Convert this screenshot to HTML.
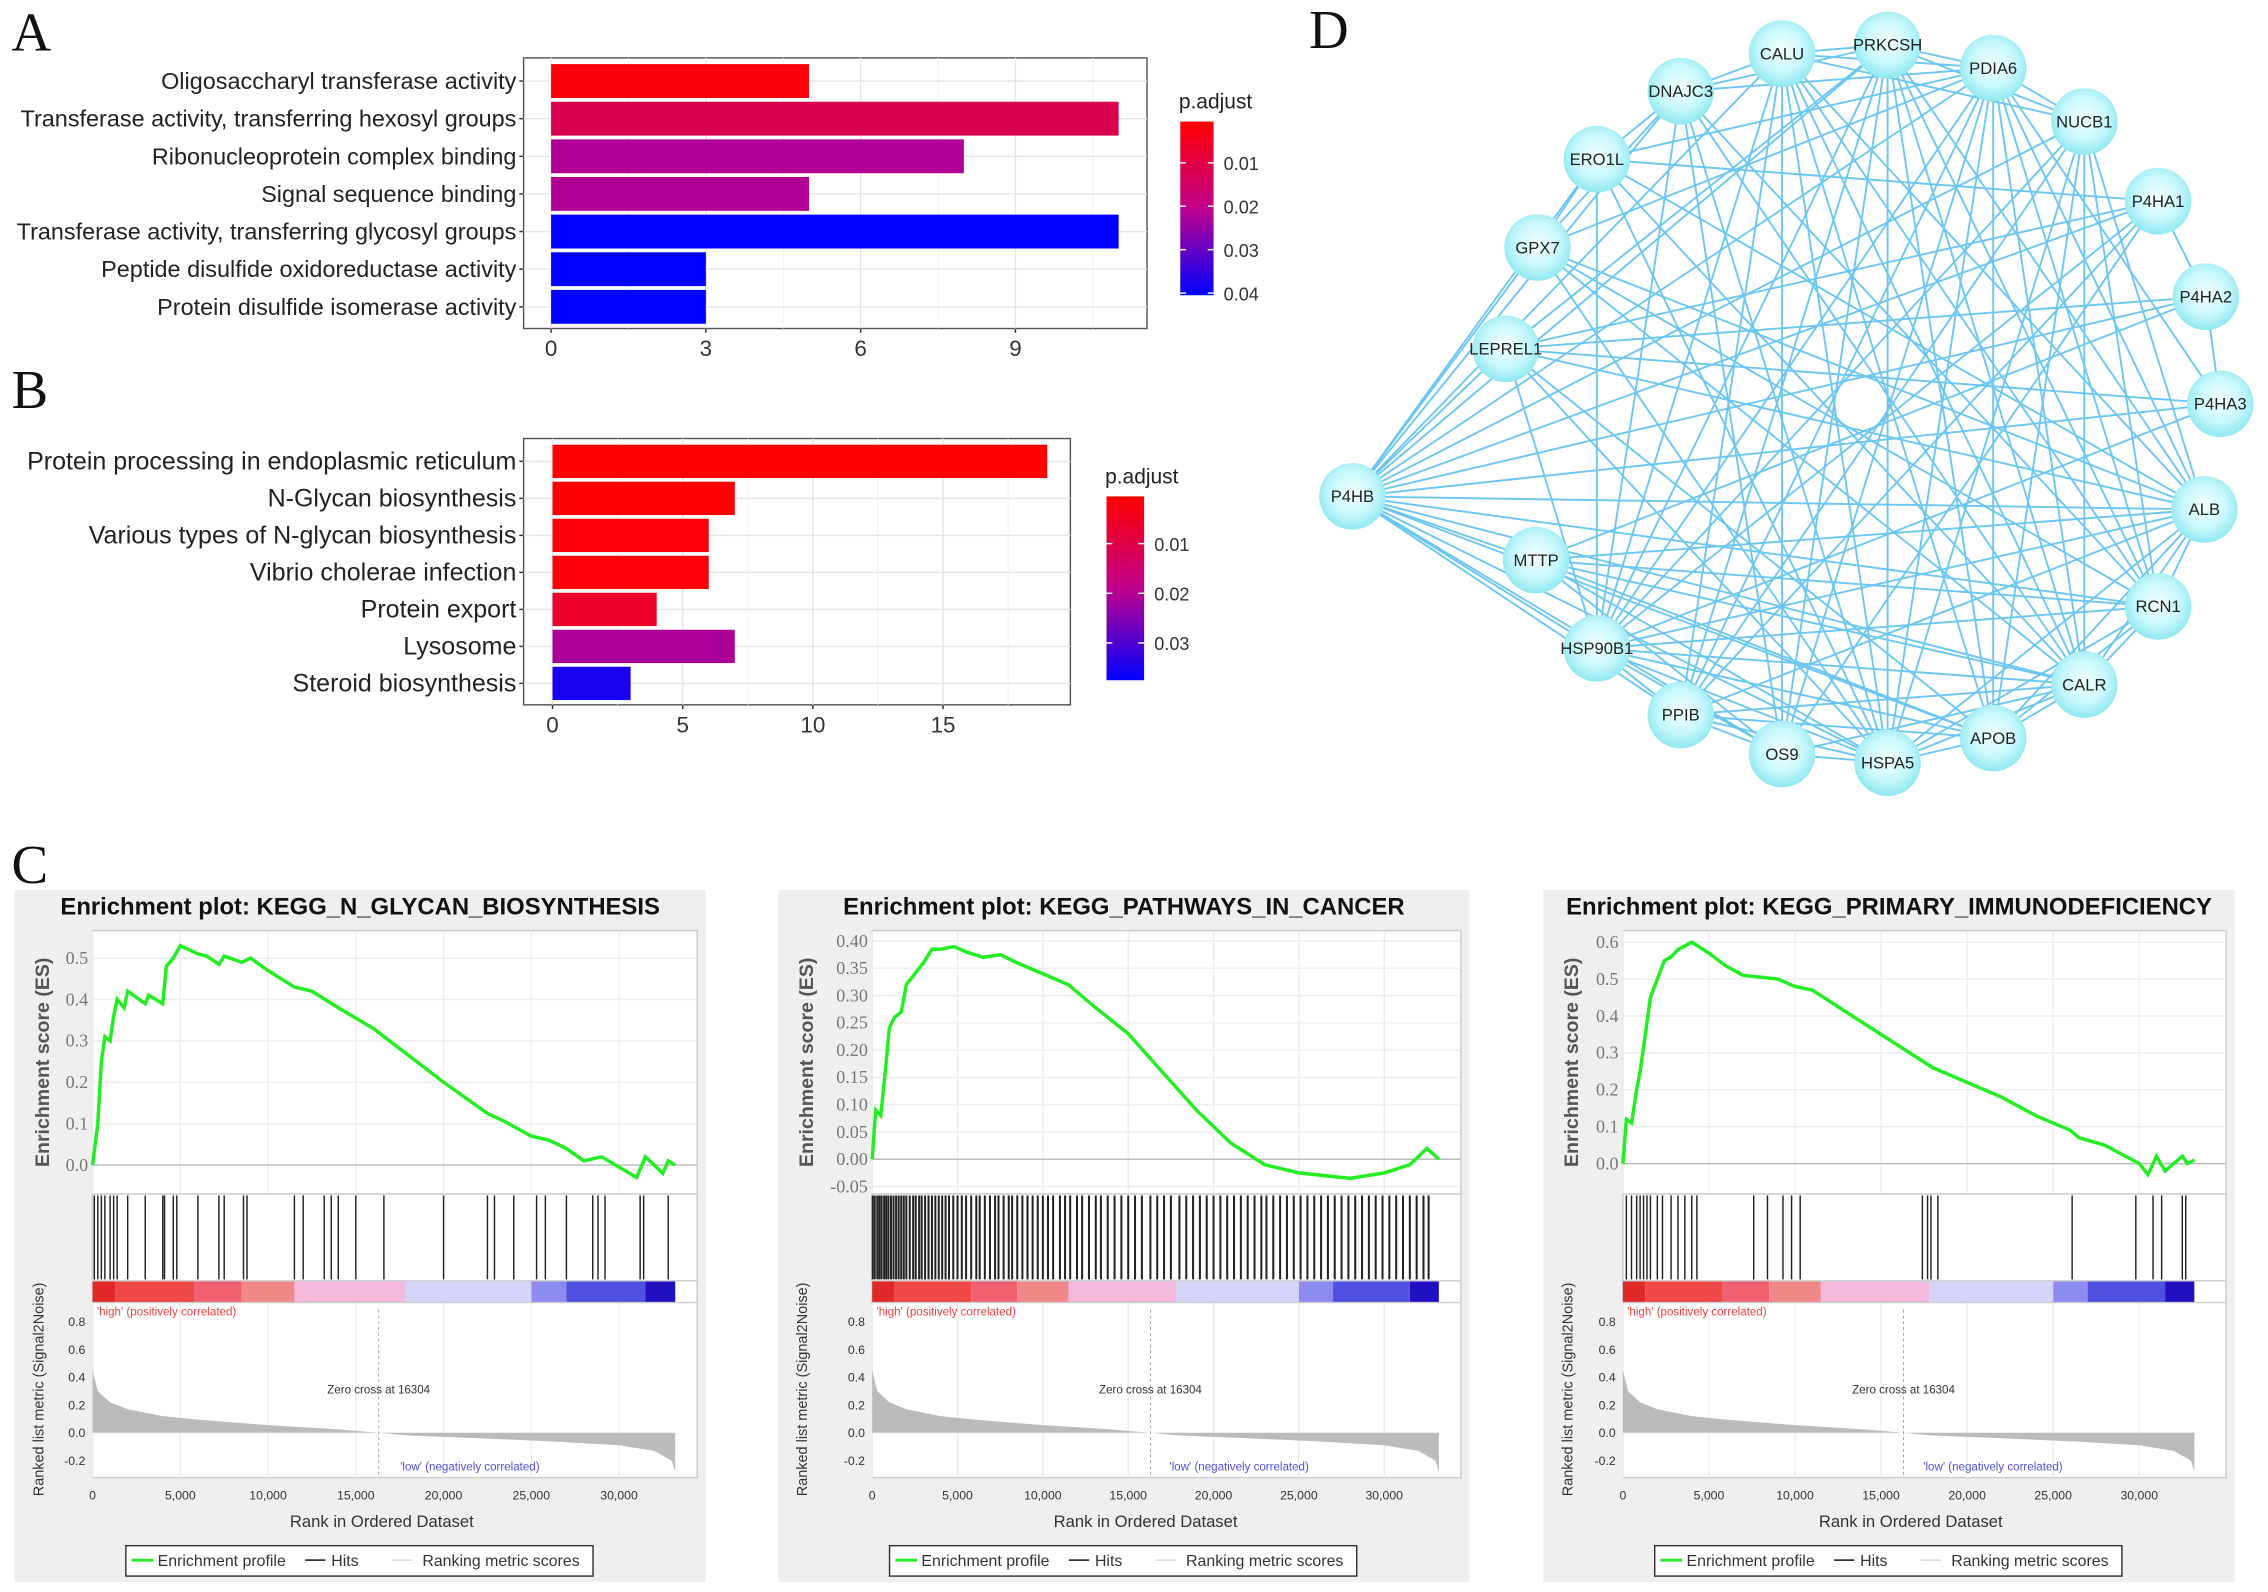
<!DOCTYPE html>
<html><head><meta charset="utf-8">
<style>
html,body{margin:0;padding:0;background:#fff;}
svg{display:block;font-family:"Liberation Sans",Arial,sans-serif;}
</style></head>
<body>
<svg id="fig" width="2268" height="1592" viewBox="0 0 1568 1100" preserveAspectRatio="none" xmlns="http://www.w3.org/2000/svg">
<defs>
<linearGradient id="cbA" x1="0" y1="0" x2="0" y2="1"><stop offset="0" stop-color="#ff0000"/><stop offset="0.5" stop-color="#c0008c"/><stop offset="1" stop-color="#0000ff"/></linearGradient>
<linearGradient id="cbB" x1="0" y1="0" x2="0" y2="1"><stop offset="0" stop-color="#ff0000"/><stop offset="0.5" stop-color="#c0008c"/><stop offset="1" stop-color="#0000ff"/></linearGradient>
<radialGradient id="nodeG" cx="0.5" cy="0.45" r="0.55"><stop offset="0" stop-color="#f4ffff"/><stop offset="0.6" stop-color="#c8f8fc"/><stop offset="1" stop-color="#8ee8f0"/></radialGradient>
</defs>
<g id="root"></g>
</svg>
<script>
const NS="http://www.w3.org/2000/svg";
const root=document.getElementById('root');
function mk(tag,attrs,parent,txt){const e=document.createElementNS(NS,tag);for(const k in attrs)e.setAttribute(k,attrs[k]);if(txt!==undefined)e.textContent=txt;(parent||root).appendChild(e);return e;}

// ---------- Panel A data ----------
const aCategories=["Oligosaccharyl transferase activity","Transferase activity, transferring hexosyl groups","Ribonucleoprotein complex binding","Signal sequence binding","Transferase activity, transferring glycosyl groups","Peptide disulfide oxidoreductase activity","Protein disulfide isomerase activity"];
const aCounts=[5,11,8,5,11,3,3];
const aPadj=[0.002,0.012,0.022,0.022,0.041,0.041,0.041];
const aTicks=[0,3,6,9];
const aLegendTicks=[0.01,0.02,0.03,0.04];
// ---------- Panel B data ----------
const bCategories=["Protein processing in endoplasmic reticulum","N-Glycan biosynthesis","Various types of N-glycan biosynthesis","Vibrio cholerae infection","Protein export","Lysosome","Steroid biosynthesis"];
const bCounts=[19,7,6,6,4,7,3];
const bPadj=[0.0002,0.001,0.0015,0.0015,0.006,0.021,0.035];
const bTicks=[0,5,10,15];
const bLegendTicks=[0.01,0.02,0.03];

function padjColor(p,lo,hi){let t=(p-lo)/(hi-lo);t=Math.max(0,Math.min(1,t));
  let r,g,b; if(t<0.5){const u=t/0.5;r=255+(192-255)*u;g=0;b=0+140*u;}else{const u=(t-0.5)/0.5;r=192-192*u;g=0;b=140+115*u;}
  return `rgb(${r|0},${g|0},${b|0})`;}

function barPanel(o){
  const g=mk('g',{});
  const xs=v=>o.x0+v*o.ppu;
  const rowH=(o.by-o.ty)/o.cats.length;
  const bg=mk('rect',{x:o.bx,y:o.ty-o.padT,width:o.rx-o.bx,height:o.by-o.ty+o.padT+o.padB,fill:'#fff',stroke:'#555','stroke-width':1},g);
  
  o.ticks.forEach((t,i)=>{mk('line',{x1:xs(t),x2:xs(t),y1:o.ty-o.padT,y2:o.by+o.padB,stroke:'#e6e6e6','stroke-width':1},g);
    const m=t+(o.ticks[1]-o.ticks[0])/2;if(xs(m)<o.rx)mk('line',{x1:xs(m),x2:xs(m),y1:o.ty-o.padT,y2:o.by+o.padB,stroke:'#f2f2f2','stroke-width':0.7},g);});
  o.cats.forEach((c,i)=>{const cy=o.ty+rowH*(i+0.5);
    mk('line',{x1:o.bx,x2:o.rx,y1:cy,y2:cy,stroke:'#e6e6e6','stroke-width':1},g);
    const r=mk('rect',{x:xs(0),y:cy-rowH*0.45,width:xs(o.vals[i])-xs(0),height:rowH*0.9,fill:padjColor(o.padj[i],o.plo,o.phi)},g);
    
    const l=mk('text',{x:o.bx-5,y:cy+5.5,'text-anchor':'end','font-size':o.fs,fill:'#222'},g,c);
    
    mk('line',{x1:o.bx-3,x2:o.bx,y1:cy,y2:cy,stroke:'#333'},g);});
  o.ticks.forEach(t=>{mk('line',{x1:xs(t),x2:xs(t),y1:o.by+o.padB,y2:o.by+o.padB+3,stroke:'#333'},g);
    const tl=mk('text',{x:xs(t),y:o.by+o.padB+19,'text-anchor':'middle','font-size':15.5,fill:'#333'},g,String(t));
    });
  const lg=mk('g',{},g);
  mk('text',{x:o.cbx,y:o.cby-9,'font-size':14.5,fill:'#222'},lg,'p.adjust');
  mk('rect',{x:o.cbx+1,y:o.cby,width:o.cbw,height:o.cbh,fill:'url(#'+o.grad+')'},lg);
  o.lticks.forEach(t=>{const yy=o.cby+(t-o.plo)/(o.phi-o.plo)*o.cbh;
    mk('line',{x1:o.cbx+1,x2:o.cbx+5,y1:yy,y2:yy,stroke:'#fff'},lg);mk('line',{x1:o.cbx+o.cbw-3,x2:o.cbx+o.cbw+1,y1:yy,y2:yy,stroke:'#fff'},lg);
    mk('text',{x:o.cbx+o.cbw+8,y:yy+5,'font-size':12.5,fill:'#333'},lg,t.toFixed(2));});
}
barPanel({name:'panel-a-go-barplot',cats:aCategories,vals:aCounts,padj:aPadj,ticks:aTicks,lticks:aLegendTicks,fs:16.2,
  bx:362,rx:793,ty:43,by:225,padT:3,padB:2,x0:381,ppu:35.67,plo:0.0005,phi:0.0405,cbx:815,cby:84,cbw:23,cbh:120,grad:'cbA'});
barPanel({name:'panel-b-kegg-barplot',cats:bCategories,vals:bCounts,padj:bPadj,ticks:bTicks,lticks:bLegendTicks,fs:17.3,
  bx:362,rx:740,ty:306,by:485,padT:3,padB:2,x0:382,ppu:18,plo:0.0005,phi:0.0375,cbx:764,cby:343,cbw:26,cbh:127,grad:'cbB'});

[['A',8,35],['B',8,282],['C',8,610],['D',905,33]].forEach(([t,x,y])=>{const e=mk('text',{x:x,y:y,'font-size':38,'font-family':'"Liberation Serif",serif',fill:'#111'},root,t);
  });

// ---------- Panel C GSEA data ----------
const es1Ranks=[0,300,500,700,1000,1200,1400,1800,2000,3000,3200,4000,4200,4600,5000,6000,6500,7200,7500,8500,9000,10000,11500,12500,14000,16000,20000,22500,23500,25000,26000,27000,28000,29000,31000,31500,32500,32800,33200];
const es1Vals=[0,0.1,0.25,0.31,0.3,0.36,0.4,0.38,0.42,0.39,0.41,0.39,0.48,0.5,0.53,0.51,0.505,0.485,0.505,0.49,0.5,0.47,0.43,0.42,0.38,0.33,0.2,0.125,0.105,0.07,0.06,0.04,0.01,0.02,-0.03,0.02,-0.02,0.01,0];
const hits1=[100,300,500,700,1000,1200,1400,2000,3000,4000,4100,4600,4800,6000,7200,7500,8600,8800,11500,12000,13200,13600,14000,15000,16600,20000,22500,22900,24000,25300,25800,27000,28500,28800,29200,31200,31400,32800];
const es2Ranks=[0,200,500,800,1000,1300,1700,2000,2500,3000,3500,4000,4800,5500,6500,7500,8500,10000,11500,13000,15000,17000,19000,21000,23000,25000,26500,28000,30000,31500,32500,33200];
const es2Vals=[0,0.09,0.08,0.17,0.24,0.26,0.27,0.32,0.34,0.36,0.385,0.385,0.39,0.38,0.37,0.375,0.36,0.34,0.32,0.28,0.23,0.16,0.09,0.03,-0.01,-0.025,-0.03,-0.035,-0.025,-0.01,0.02,0];
const hits2=[30,150,300,420,550,700,820,950,1100,1250,1400,1550,1700,1850,2000,2200,2400,2550,2750,2900,3100,3300,3500,3700,3900,4100,4300,4500,4750,5000,5250,5500,5800,6100,6300,6600,6900,7200,7400,7700,8000,8200,8500,8800,9100,9400,9700,10000,10300,10600,11000,11300,11600,12000,12300,12700,13100,13400,13800,14200,14600,15000,15400,15800,16300,16700,17100,17500,18000,18400,18800,19200,19600,20000,20400,20800,21200,21600,22000,22400,22800,23100,23500,23900,24300,24700,25100,25500,25900,26300,26700,27100,27500,27900,28300,28700,29100,29500,29900,30300,30700,31100,31500,31900,32300,32600];
const es3Ranks=[0,200,500,800,1000,1300,1600,2000,2400,2800,3200,4000,5000,6000,7000,8000,9000,10000,11000,12000,14000,16000,18000,20000,22000,24000,26000,26500,28000,30000,30500,31000,31500,32500,32800,33200];
const es3Vals=[0,0.12,0.11,0.2,0.25,0.35,0.45,0.5,0.55,0.56,0.58,0.6,0.57,0.535,0.51,0.505,0.5,0.48,0.47,0.44,0.38,0.32,0.26,0.22,0.18,0.13,0.09,0.07,0.05,0,-0.03,0.02,-0.02,0.02,0,0.01];
const hits3=[200,500,800,1000,1200,1400,1600,2000,2300,2800,3200,3600,4000,4300,7600,8400,9300,9800,10300,17400,17700,17900,18300,26100,29800,30800,31300,32500,32700];
const metricRanks=[0,300,1000,2000,4000,6000,8000,10000,12000,14000,16300,18000,22000,26000,30000,32000,33000,33200];
const metricVals=[0.45,0.3,0.22,0.17,0.12,0.095,0.075,0.055,0.04,0.025,0,-0.02,-0.04,-0.06,-0.09,-0.13,-0.2,-0.28];
const xTicks=[0,5000,10000,15000,20000,25000,30000];
const metricTicks=[0.8,0.6,0.4,0.2,0.0,-0.2];
const bandEdges=[0,1300,5800,8500,11500,17800,25000,27000,31500,33200];
const bandColors=['#e02828','#f04848','#f06070','#f08888','#f4b8dc','#d4d4f8','#8c8cf0','#5050e0','#2010c0'];

function gsea(o){
  const g=mk('g',{});
  mk('rect',{x:o.px,y:615,width:478,height:478,fill:'#efefef'},g);
  const t=mk('text',{x:o.px+239,y:632,'text-anchor':'middle','font-size':16.5,'font-weight':'bold',fill:'#111'},g,o.title);
  
  const X=r=>o.x0+r*(o.x30-o.x0)/30000;
  const right=o.px+472, left=o.x0;
  mk('rect',{x:left,y:643,width:right-left,height:378,fill:'#fff',stroke:'#ccc'},g);
  const Y=v=>o.y0-v*o.ppu;
  xTicks.forEach(tk=>{mk('line',{x1:X(tk),x2:X(tk),y1:643,y2:825,stroke:'#eee'},g);mk('line',{x1:X(tk),x2:X(tk),y1:900,y2:1021,stroke:'#eee'},g);});
  o.esTicks.forEach(v=>{mk('line',{x1:left,x2:right,y1:Y(v),y2:Y(v),stroke:'#eee'},g);
    mk('text',{x:left-3,y:Y(v)+4,'text-anchor':'end','font-size':12.5,fill:'#777','font-family':'"Liberation Serif",serif'},g,v.toFixed(o.dec));});
  mk('line',{x1:left,x2:right,y1:Y(0),y2:Y(0),stroke:'#bbb'},g);
  const yl=mk('text',{transform:`translate(${o.px+24},734) rotate(-90)`,'text-anchor':'middle','font-size':13.5,'font-weight':'bold',fill:'#555'},g,'Enrichment score (ES)');
  
  let d='';o.esR.forEach((r,i)=>{d+=(i?'L':'M')+X(r).toFixed(1)+','+Y(o.esV[i]).toFixed(1);});
  const line=mk('path',{d:d,fill:'none',stroke:'#22ee22','stroke-width':2.4},g);
  
  mk('line',{x1:left,x2:right,y1:825,y2:825,stroke:'#ccc'},g);
  o.hits.forEach(h=>{const l=mk('line',{x1:X(h),x2:X(h),y1:826,y2:884,stroke:'#222','stroke-width':o.hw},g);
    });
  bandColors.forEach((c,i)=>{mk('rect',{x:X(bandEdges[i]),y:885,width:X(bandEdges[i+1])-X(bandEdges[i]),height:15,fill:c},g);});
  mk('line',{x1:left,x2:right,y1:885,y2:885,stroke:'#ccc'},g);mk('line',{x1:left,x2:right,y1:900,y2:900,stroke:'#ccc'},g);
  mk('text',{x:left+3,y:909,'font-size':8,fill:'#f04040'},g,"'high' (positively correlated)");
  const M=v=>990-v*96;
  let pd='M'+X(0)+','+M(0);metricRanks.forEach((r,i)=>{pd+='L'+X(r).toFixed(1)+','+M(metricVals[i]).toFixed(1);});pd+='L'+X(33200)+','+M(0)+'Z';
  const area=mk('path',{d:pd,fill:'#bbbbbb'},g);
  metricTicks.forEach(v=>{mk('text',{x:left-5,y:M(v)+3,'text-anchor':'end','font-size':8.5,fill:'#333'},g,v.toFixed(1));});
  mk('line',{x1:X(16304),x2:X(16304),y1:905,y2:1020,stroke:'#999','stroke-dasharray':'2,2','stroke-width':0.6},g);
  mk('text',{x:X(16304),y:963,'text-anchor':'middle','font-size':8,fill:'#333'},g,'Zero cross at 16304');
  mk('text',{x:X(21500),y:1016,'text-anchor':'middle','font-size':8,fill:'#5050e0'},g,"'low' (negatively correlated)");
  mk('text',{transform:`translate(${o.px+20},960) rotate(-90)`,'text-anchor':'middle','font-size':10,fill:'#333'},g,'Ranked list metric (Signal2Noise)');
  xTicks.forEach(tk=>{mk('text',{x:X(tk),y:1036,'text-anchor':'middle','font-size':8.5,fill:'#333'},g,tk.toLocaleString('en-US'));});
  mk('text',{x:o.px+254,y:1055,'text-anchor':'middle','font-size':11.5,fill:'#333'},g,'Rank in Ordered Dataset');
  const lg=mk('g',{},g);
  const lx=o.px+77;mk('rect',{x:lx,y:1068,width:323,height:21,fill:'#fff',stroke:'#333'},lg);
  mk('line',{x1:lx+4,x2:lx+19,y1:1078,y2:1078,stroke:'#22ee22','stroke-width':2},lg);
  mk('text',{x:lx+22,y:1082,'font-size':11,fill:'#333'},lg,'Enrichment profile');
  mk('line',{x1:lx+124,x2:lx+138,y1:1078,y2:1078,stroke:'#333','stroke-width':1.2},lg);
  mk('text',{x:lx+142,y:1082,'font-size':11,fill:'#333'},lg,'Hits');
  mk('line',{x1:lx+184,x2:lx+198,y1:1078,y2:1078,stroke:'#ddd','stroke-width':1.2},lg);
  mk('text',{x:lx+205,y:1082,'font-size':11,fill:'#333'},lg,'Ranking metric scores');
}
gsea({name:'gsea-n-glycan',px:10,title:'Enrichment plot: KEGG_N_GLYCAN_BIOSYNTHESIS',x0:64,x30:428,y0:805,ppu:286,esTicks:[0,0.1,0.2,0.3,0.4,0.5],dec:1,esR:es1Ranks,esV:es1Vals,hits:hits1,hw:1});
gsea({name:'gsea-pathways-in-cancer',px:538,title:'Enrichment plot: KEGG_PATHWAYS_IN_CANCER',x0:603,x30:957,y0:801,ppu:377,esTicks:[-0.05,0,0.05,0.1,0.15,0.2,0.25,0.3,0.35,0.4],dec:2,esR:es2Ranks,esV:es2Vals,hits:hits2,hw:1.4});
gsea({name:'gsea-primary-immunodeficiency',px:1067,title:'Enrichment plot: KEGG_PRIMARY_IMMUNODEFICIENCY',x0:1122,x30:1479,y0:804,ppu:255,esTicks:[0,0.1,0.2,0.3,0.4,0.5,0.6],dec:1,esR:es3Ranks,esV:es3Vals,hits:hits3,hw:1});

// ---------- Panel D network ----------
const nodeNames=["CALU","PRKCSH","PDIA6","DNAJC3","NUCB1","ERO1L","P4HA1","GPX7","P4HA2","LEPREL1","P4HA3","P4HB","ALB","MTTP","RCN1","HSP90B1","CALR","PPIB","APOB","OS9","HSPA5"];
const nodeX=[1232,1305,1378,1162,1441,1104,1492,1063,1525,1041,1535,935,1524,1062,1492,1104,1441,1162,1378,1232,1305];
const nodeY=[37,31,47,63,84,110,139,171,205,241,279,343,352,387,419,448,473,494,510,521,527];
const edges=[["P4HB","CALU"],["P4HB","PRKCSH"],["P4HB","PDIA6"],["P4HB","DNAJC3"],["P4HB","ERO1L"],["P4HB","GPX7"],["P4HB","LEPREL1"],["P4HB","P4HA1"],["P4HB","P4HA2"],["P4HB","P4HA3"],["P4HB","ALB"],["P4HB","MTTP"],["P4HB","RCN1"],["P4HB","HSP90B1"],["P4HB","CALR"],["P4HB","PPIB"],["P4HB","APOB"],["P4HB","OS9"],["P4HB","HSPA5"],["P4HB","NUCB1"],
["HSP90B1","CALU"],["HSP90B1","PRKCSH"],["HSP90B1","PDIA6"],["HSP90B1","DNAJC3"],["HSP90B1","ERO1L"],["HSP90B1","NUCB1"],["HSP90B1","P4HA1"],["HSP90B1","ALB"],["HSP90B1","RCN1"],["HSP90B1","CALR"],["HSP90B1","PPIB"],["HSP90B1","OS9"],["HSP90B1","HSPA5"],["HSP90B1","APOB"],["HSP90B1","LEPREL1"],
["HSPA5","CALU"],["HSPA5","PRKCSH"],["HSPA5","PDIA6"],["HSPA5","DNAJC3"],["HSPA5","ERO1L"],["HSPA5","NUCB1"],["HSPA5","GPX7"],["HSPA5","ALB"],["HSPA5","RCN1"],["HSPA5","CALR"],["HSPA5","PPIB"],["HSPA5","OS9"],["HSPA5","APOB"],["HSPA5","MTTP"],["HSPA5","LEPREL1"],
["CALR","CALU"],["CALR","PRKCSH"],["CALR","PDIA6"],["CALR","DNAJC3"],["CALR","ERO1L"],["CALR","NUCB1"],["CALR","ALB"],["CALR","RCN1"],["CALR","APOB"],["CALR","PPIB"],["CALR","OS9"],["CALR","MTTP"],["CALR","GPX7"],
["APOB","ALB"],["APOB","MTTP"],["APOB","PDIA6"],["APOB","CALU"],["APOB","PRKCSH"],["APOB","RCN1"],["APOB","PPIB"],["APOB","NUCB1"],["APOB","LEPREL1"],
["PDIA6","CALU"],["PDIA6","PRKCSH"],["PDIA6","DNAJC3"],["PDIA6","NUCB1"],["PDIA6","ERO1L"],["PDIA6","OS9"],["PDIA6","PPIB"],["PDIA6","ALB"],["PDIA6","RCN1"],["PDIA6","GPX7"],["PDIA6","P4HA3"],
["CALU","PRKCSH"],["CALU","DNAJC3"],["CALU","NUCB1"],["CALU","RCN1"],["CALU","OS9"],["CALU","ALB"],["CALU","PPIB"],["PRKCSH","NUCB1"],["PRKCSH","DNAJC3"],["PRKCSH","ALB"],["PRKCSH","OS9"],["PRKCSH","PPIB"],["PRKCSH","RCN1"],["PRKCSH","LEPREL1"],
["ERO1L","P4HA1"],["ERO1L","DNAJC3"],["ERO1L","GPX7"],["ERO1L","ALB"],["GPX7","ALB"],["GPX7","DNAJC3"],["LEPREL1","P4HA2"],["LEPREL1","P4HA3"],["LEPREL1","P4HA1"],["LEPREL1","ALB"],["P4HA1","P4HA2"],["P4HA2","P4HA3"],["P4HA1","PPIB"],["P4HA2","MTTP"],["P4HA3","HSP90B1"],
["ALB","MTTP"],["ALB","RCN1"],["ALB","PPIB"],["ALB","NUCB1"],["MTTP","RCN1"],["MTTP","OS9"],["RCN1","NUCB1"],["RCN1","DNAJC3"],["OS9","PPIB"],["NUCB1","PPIB"],["DNAJC3","OS9"],["P4HA1","OS9"],["GPX7","RCN1"]];
const net=mk('g',{});
const idx=n=>nodeNames.indexOf(n);
edges.forEach(([a,b])=>{const i=idx(a),j=idx(b);
  const l=mk('line',{x1:nodeX[i],y1:nodeY[i],x2:nodeX[j],y2:nodeY[j],stroke:'#6cc6f2','stroke-width':1.3},net);
  });
nodeNames.forEach((n,i)=>{
  const c=mk('circle',{cx:nodeX[i],cy:nodeY[i],r:23,fill:'url(#nodeG)'},net);
  
  mk('text',{x:nodeX[i],y:nodeY[i]+4,'text-anchor':'middle','font-size':11.5,fill:'#222'},net,n);});
</script>
</body></html>
